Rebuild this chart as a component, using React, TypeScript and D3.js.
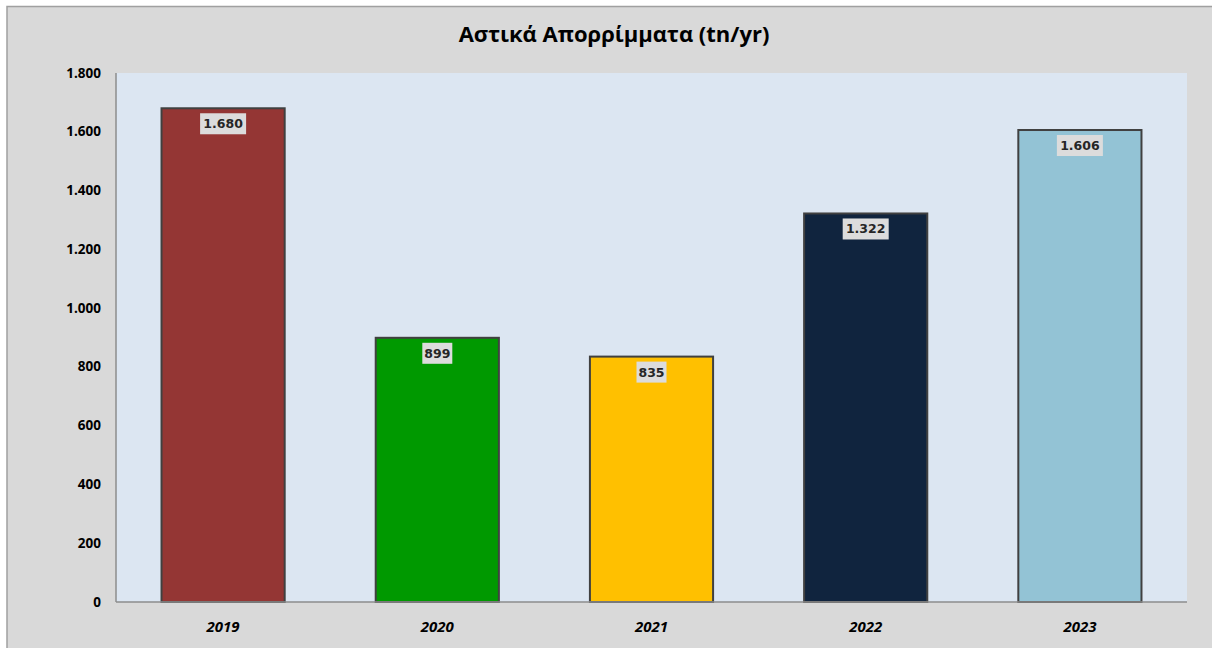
import React from 'react';
import * as d3 from 'd3';

const years = ['2019', '2020', '2021', '2022', '2023'];
const waste = [1680, 899, 835, 1322, 1606];
const barColors = ['#943634', '#009900', '#ffc000', '#10243e', '#93c3d5'];
const yTicks = [0, 200, 400, 600, 800, 1000, 1200, 1400, 1600, 1800];

const W = 1212;
const H = 648;
const plot = { left: 116, top: 73, right: 1187, bottom: 602 };

const greek = d3.formatLocale({ decimal: ',', thousands: '.', grouping: [3], currency: ['', '€'] });
const fmt = greek.format(',d');

const App: React.FC = () => {
  const x = d3.scaleBand<string>()
    .domain(years)
    .range([plot.left, plot.right])
    .paddingInner(0.425)
    .paddingOuter(0.2125);

  const y = d3.scaleLinear()
    .domain([0, 1800])
    .range([plot.bottom, plot.top]);

  return (
    <svg width={W} height={H} style={{ position: 'absolute', left: 0, top: 0, background: '#fff' }}>
      {/* outer frame */}
      <rect x={7} y={6.5} width={1216} height={660} fill="#d9d9d9" stroke="#a0a0a0" strokeWidth={1.5} />
      <text x={614} y={42} textAnchor="middle" fontFamily="Open Sans, sans-serif"
        fontWeight="bold" fontSize={22} fill="#000">Αστικά Απορρίμματα (tn/yr)</text>

      {/* plot area */}
      <rect x={plot.left} y={plot.top} width={plot.right - plot.left} height={plot.bottom - plot.top} fill="#dce6f2" />

      {yTicks.map(t => (
        <text key={t} x={101} y={y(t) + 4.5} textAnchor="end" fontFamily="Open Sans, sans-serif"
          fontWeight="bold" fontSize={13.5} fill="#000">{fmt(t)}</text>
      ))}

      {waste.map((v, i) => {
        const bx = x(years[i])!;
        const bw = x.bandwidth();
        const top = y(v);
        const label = fmt(v);
        const lw = label.length * 8 + 6;
        const cx = bx + bw / 2;
        return (
          <g key={years[i]}>
            <rect x={bx} y={top} width={bw} height={y(0) - top} fill={barColors[i]}
              stroke="#404040" strokeWidth={2} />
            <rect x={cx - lw / 2} y={top + 5} width={lw} height={21} fill="#dcdcdc" />
            <text x={cx} y={top + 20} textAnchor="middle" fontFamily="DejaVu Sans, sans-serif"
              fontWeight="bold" fontSize={12.5} fill="#262626">{label}</text>
          </g>
        );
      })}

      <line x1={plot.left} x2={plot.left} y1={plot.top} y2={plot.bottom} stroke="#8c8c8c" strokeWidth={1.5} />
      <line x1={plot.left} x2={plot.right} y1={plot.bottom} y2={plot.bottom} stroke="#8c8c8c" strokeWidth={1.5} />

      {years.map(yr => (
        <text key={yr} x={x(yr)! + x.bandwidth() / 2} y={632} textAnchor="middle"
          fontFamily="Open Sans, sans-serif" fontWeight="bold" fontStyle="italic" fontSize={15} fill="#000">{yr}</text>
      ))}
    </svg>
  );
};

export default App;
